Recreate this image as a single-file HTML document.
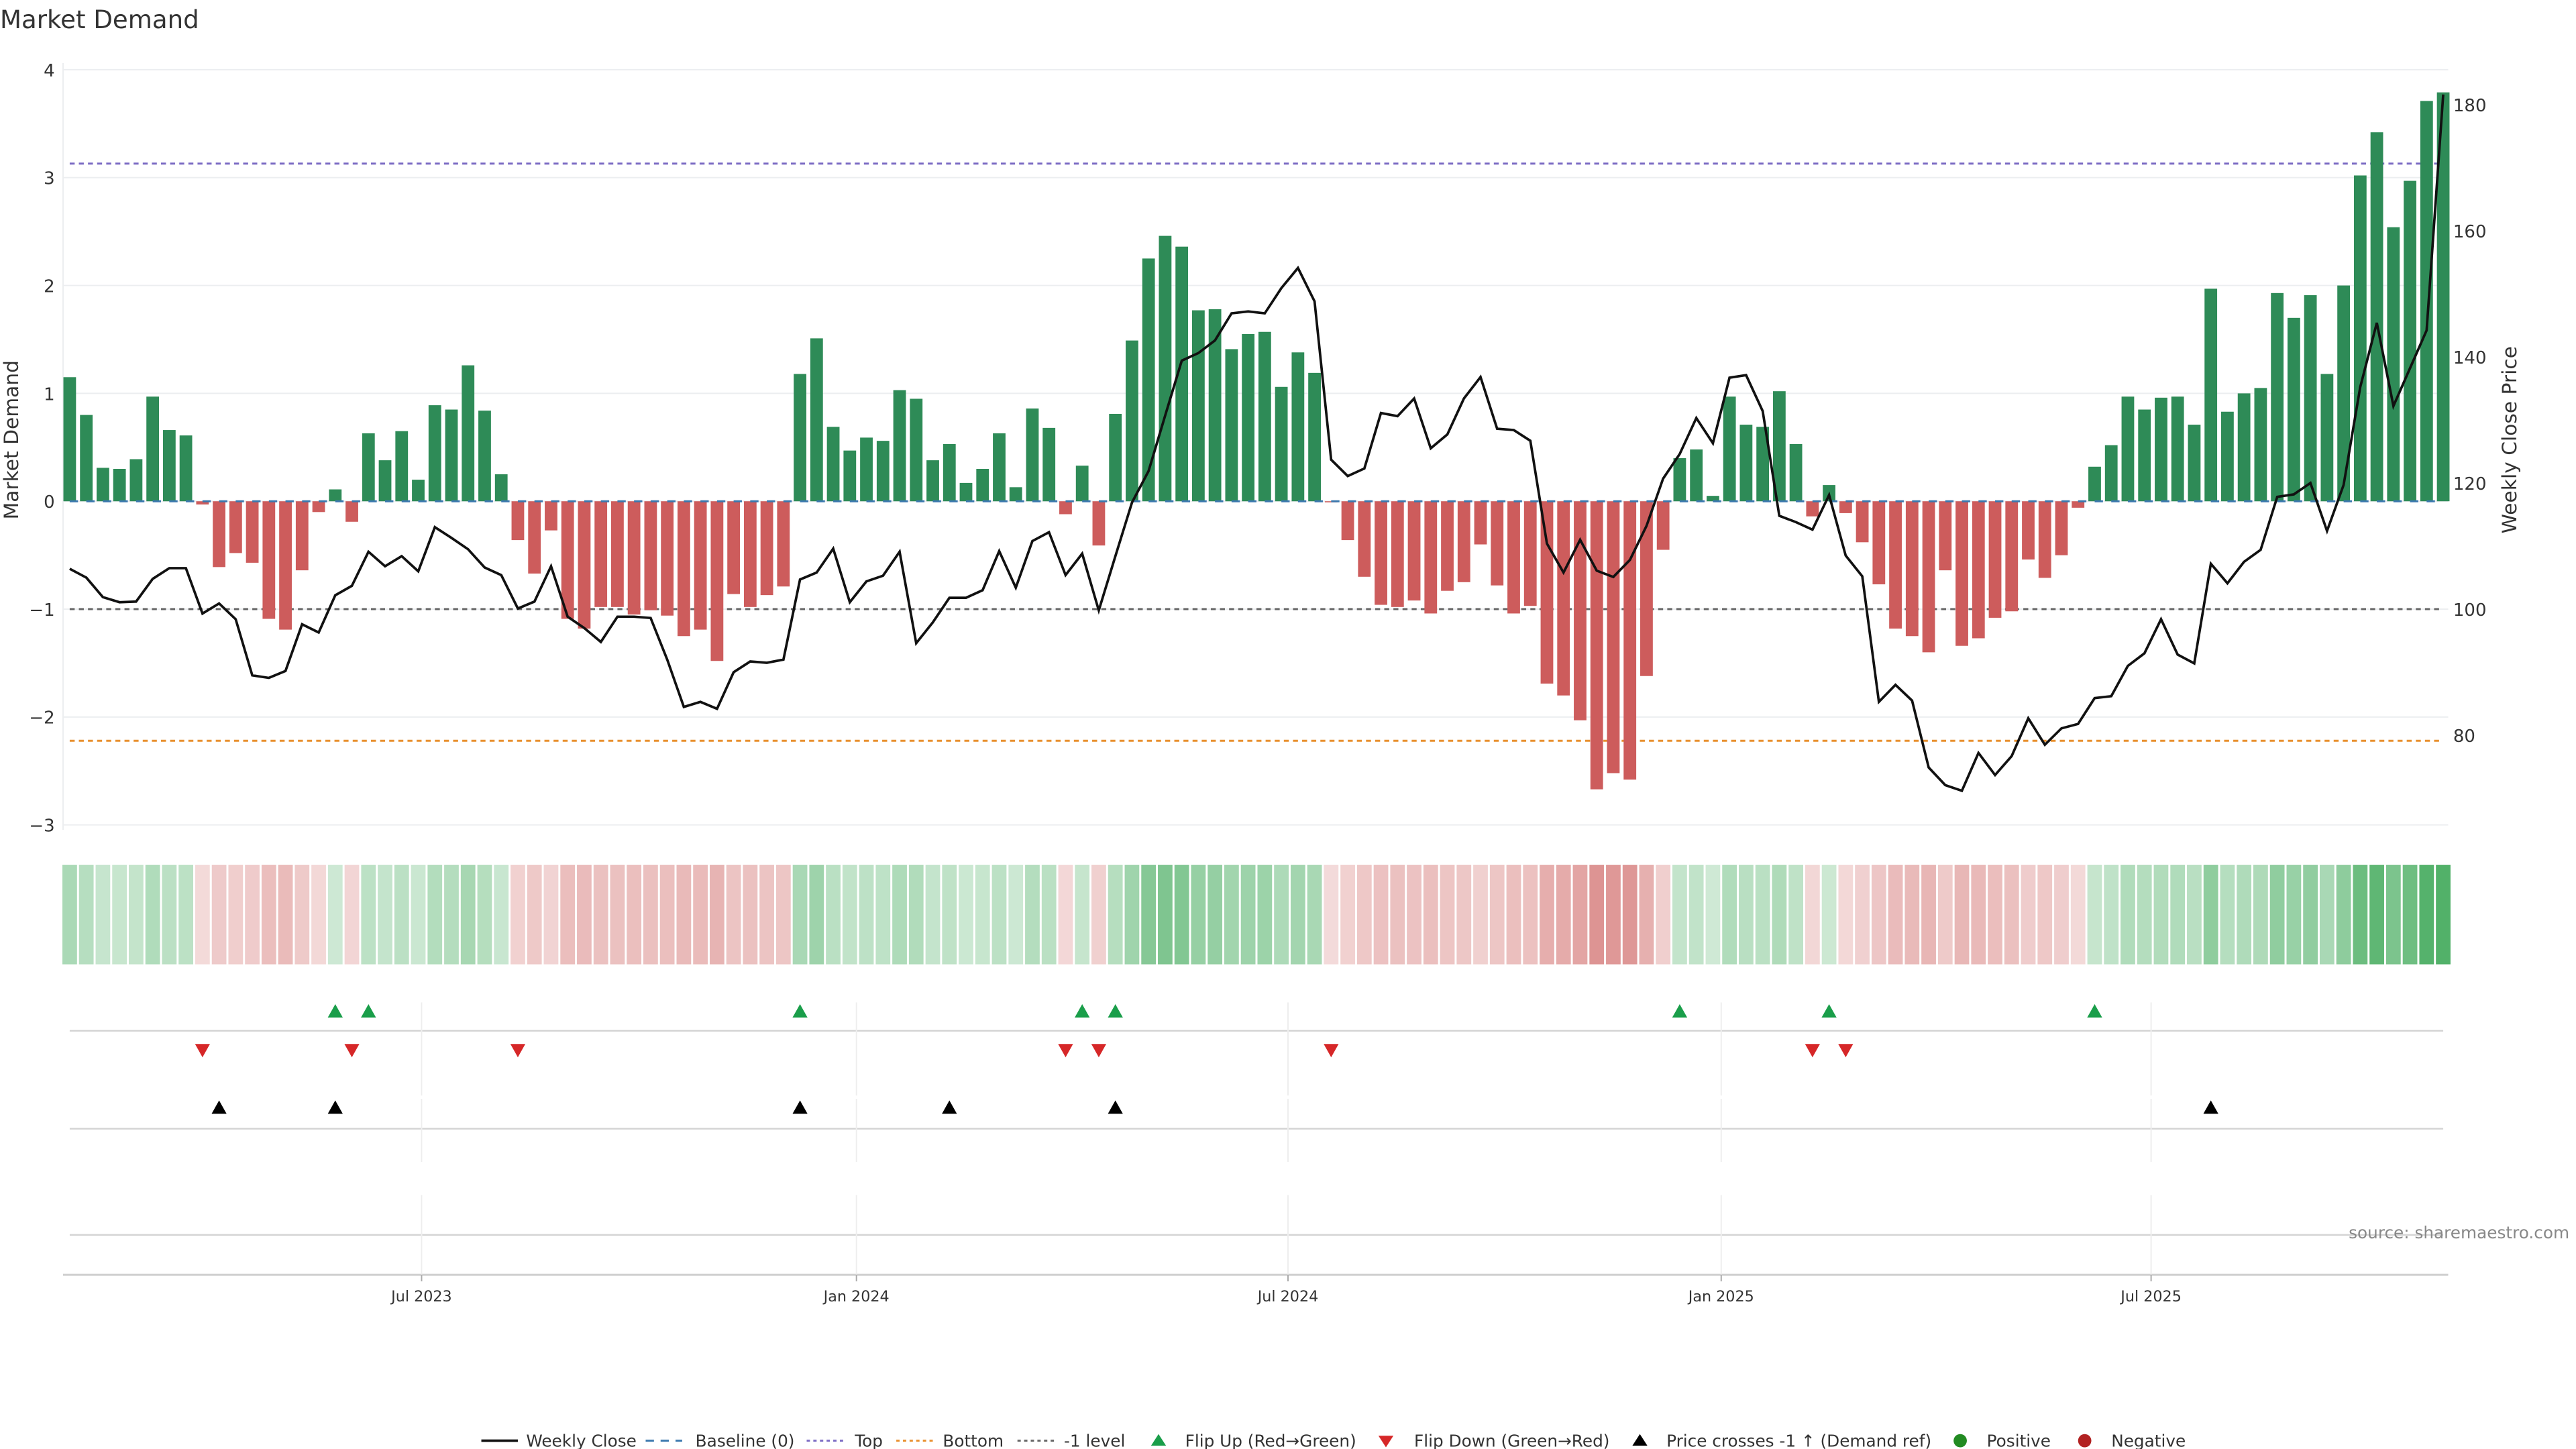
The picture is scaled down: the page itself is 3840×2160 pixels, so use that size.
<!DOCTYPE html>
<html><head><meta charset="utf-8"><title>Market Demand</title>
<style>
html,body{margin:0;padding:0;background:#fff;}
svg{display:block;font-family:"DejaVu Sans","Liberation Sans",sans-serif;}
</style></head>
<body>
<svg id="chart" width="3840" height="2160" viewBox="0 0 1552 873" preserveAspectRatio="none" xmlns="http://www.w3.org/2000/svg">
<rect x="0" y="0" width="1552" height="873" fill="#fff"/>
<text x="0" y="17" font-size="15" fill="#333">Market Demand</text>
<g id="grid"></g>
<g id="refs"></g>
<g id="bars"></g>
<g id="line"></g>
<g id="strip"></g>
<g id="events"></g>
<g id="axes"></g>
<g id="legend"></g>
</svg>
<script>
const demand = [1.15,0.80,0.31,0.30,0.39,0.97,0.66,0.61,-0.03,-0.61,-0.48,-0.57,-1.09,-1.19,-0.64,-0.10,0.11,-0.19,0.63,0.38,0.65,0.20,0.89,0.85,1.26,0.84,0.25,-0.36,-0.67,-0.27,-1.09,-1.18,-0.98,-0.98,-1.05,-1.01,-1.06,-1.25,-1.19,-1.48,
-0.86,-0.98,-0.87,-0.79,1.18,1.51,0.69,0.47,0.59,0.56,1.03,0.95,0.38,0.53,0.17,0.30,0.63,0.13,0.86,0.68,-0.12,0.33,-0.41,0.81,1.49,2.25,2.46,2.36,1.77,1.78,1.41,1.55,1.57,1.06,1.38,1.19,-0.01,-0.36,-0.70,-0.96,
-0.98,-0.92,-1.04,-0.83,-0.75,-0.40,-0.78,-1.04,-0.97,-1.69,-1.80,-2.03,-2.67,-2.52,-2.58,-1.62,-0.45,0.40,0.48,0.05,0.97,0.71,0.69,1.02,0.53,-0.14,0.15,-0.11,-0.38,-0.77,-1.18,-1.25,-1.40,-0.64,-1.34,-1.27,-1.08,-1.02,-0.54,-0.71,-0.50,
-0.06,0.32,0.52,0.97,0.85,0.96,0.97,0.71,1.97,0.83,1.00,1.05,1.93,1.70,1.91,1.18,2.00,3.02,3.42,2.54,2.97,3.71,3.79];
const price = [106.4,105.0,101.9,101.1,101.2,104.8,106.5,106.5,99.3,100.9,98.4,89.5,89.1,90.2,97.6,96.3,102.2,103.7,109.1,106.8,108.4,106.0,113.0,111.3,109.5,106.6,105.4,100.1,101.2,106.8,98.8,97.0,94.8,98.8,98.8,98.6,92.0,84.5,85.3,84.2,
90.0,91.7,91.5,92.0,104.7,105.8,109.6,101.1,104.4,105.3,109.1,94.6,97.9,101.8,101.8,103.0,109.2,103.4,110.8,112.2,105.4,108.8,99.8,108.4,116.9,121.9,130.7,139.4,140.6,142.6,146.9,147.2,146.9,150.9,154.1,148.8,123.7,121.1,122.3,131.1,
130.6,133.4,125.5,127.7,133.4,136.8,128.6,128.4,126.7,110.4,105.8,111.0,106.1,105.1,107.8,113.2,120.7,124.6,130.3,126.3,136.7,137.1,131.4,114.8,113.8,112.6,118.1,108.5,105.2,85.3,88.0,85.5,74.9,72.1,71.2,77.2,73.7,76.7,82.7,78.5,81.1,
81.8,85.9,86.2,91.0,93.0,98.4,92.8,91.4,107.2,104.1,107.5,109.4,117.8,118.2,120.0,112.4,119.7,135.2,145.4,132.2,138.2,144.2,181.6];
const leftTicks = [4,3,2,1,0,-1,-2,-3];
const rightTicks = [180,160,140,120,100,80];
const dateTickLabels = ["Jul 2023","Jan 2024","Jul 2024","Jan 2025","Jul 2025"];
const dateTickWeeks = [21.2,47.4,73.4,99.5,125.4];
const topLevel = 3.13, bottomLevel = -2.22, refLevel = -1, priceRef = 100;

const NS="http://www.w3.org/2000/svg";
function mk(parent,tag,attrs){const e=document.createElementNS(NS,tag);for(const k in attrs)e.setAttribute(k,attrs[k]);document.getElementById(parent).appendChild(e);return e;}
const X0=42, DX=(1472-42)/(demand.length-1);
const xS=i=>X0+i*DX;
const yL=v=>302-v*65;
const yR=p=>367-(p-100)*3.8;
const PL=38, PR=1475;

// grid
leftTicks.forEach(t=>{
  const l=mk('grid','line',{x1:PL,x2:PR,y1:yL(t),y2:yL(t),stroke:'#eceef0','stroke-width':0.8});
  
  
  const tx=mk('axes','text',{x:33,y:yL(t)+4,'text-anchor':'end','font-size':10.5,fill:'#333'});
  tx.textContent=(t<0?'\u2212'+(-t):t);
  
  
});
mk('grid','line',{x1:PL,x2:PL,y1:38,y2:500,stroke:'#eceef0','stroke-width':0.8});
rightTicks.forEach(t=>{
  const tx=mk('axes','text',{x:1478,y:yR(t)+4,'font-size':10.5,fill:'#333'});
  tx.textContent=t;
  
  
});
let yt=mk('axes','text',{x:11,y:265,'text-anchor':'middle','font-size':12,fill:'#333',transform:'rotate(-90 11 265)'});
yt.textContent='Market Demand';


let yt2=mk('axes','text',{x:1516,y:265,'text-anchor':'middle','font-size':12,fill:'#333',transform:'rotate(-90 1516 265)'});
yt2.textContent='Weekly Close Price';



// reference lines
function refLine(y,color,name,dash){
  const l=mk('refs','line',{x1:42,x2:1472,y1:y,y2:y,stroke:color,'stroke-width':1.2,'stroke-dasharray':dash});
  
  
}
refLine(yL(topLevel),'#7c6cc4','top-line','3 2.5');
refLine(yL(bottomLevel),'#e8902f','bottom-line','3 2.5');
refLine(yL(refLevel),'#666','minus-one-level-line','3 2.5');

// bars
demand.forEach((v,i)=>{
  const y=Math.min(yL(v),yL(0)), h=Math.abs(yL(v)-yL(0));
  const b=mk('bars','rect',{x:xS(i)-3.8,y:y,width:7.6,height:Math.max(h,0.3),fill:v>=0?'#2e8b57':'#cd5c5c'});
  
  
});
const bl=mk('bars','line',{x1:42,x2:1472,y1:yL(0),y2:yL(0),stroke:'#3b78ae','stroke-width':1.2,'stroke-dasharray':'5 5'});



// price line
const pts=price.map((p,i)=>xS(i).toFixed(2)+','+yR(p).toFixed(2)).join(' ');
const pl=mk('line','polyline',{points:pts,fill:'none',stroke:'#111','stroke-width':1.5,'stroke-linejoin':'miter'});



// color strip
function mix(c,t){return 'rgb('+c.map(x=>Math.round(255+(x-255)*t)).join(',')+')';}
demand.forEach((v,i)=>{
  const t=Math.min(1,0.22+0.6*Math.abs(v)/3.8);
  const col=v>=0?mix([44,160,72],t):mix([200,80,78],t*0.95);
  const r=mk('strip','rect',{x:xS(i)-4.4,y:521,width:8.8,height:60,fill:col});
  
  
});

// event panel lines
[621,680,744].forEach(y=>{mk('events','line',{x1:42,x2:1472,y1:y,y2:y,stroke:'#d4d4d4','stroke-width':1});});
mk('events','line',{x1:38,x2:1475,y1:768,y2:768,stroke:'#d0d0d0','stroke-width':1.2});
dateTickWeeks.forEach((w,k)=>{
  const x=xS(w);
  [[604,660],[662,700],[720,768]].forEach(s=>mk('events','line',{x1:x,x2:x,y1:s[0],y2:s[1],stroke:'#eeeeee','stroke-width':0.8}));
  mk('events','line',{x1:x,x2:x,y1:768,y2:772,stroke:'#aaa','stroke-width':0.8});
  const tx=mk('axes','text',{x:x,y:784,'text-anchor':'middle','font-size':9,fill:'#333'});
  tx.textContent=dateTickLabels[k];
  
  
});
function tri(x,y,up,color,name){
  const d=up?`M${x-4.5},${y+4} L${x+4.5},${y+4} L${x},${y-4} Z`:`M${x-4.5},${y-4} L${x+4.5},${y-4} L${x},${y+4} Z`;
  const p=mk('events','path',{d:d,fill:color});
  
  
}
for(let i=1;i<demand.length;i++){
  if(demand[i-1]<0&&demand[i]>=0) tri(xS(i),609,true,'#1a9e4a','flip-up-marker');
  if(demand[i-1]>=0&&demand[i]<0) tri(xS(i),633,false,'#d62728','flip-down-marker');
  if(price[i-1]<priceRef&&price[i]>=priceRef) tri(xS(i),667,true,'#000','price-cross-marker');
}
const src=mk('axes','text',{x:1548,y:746,'text-anchor':'end','font-size':10,fill:'#888'});
src.textContent='source: sharemaestro.com';



// legend
const LY=868;
function ltext(x,s){const t=mk('legend','text',{x:x,y:LY+3.5,'font-size':10,fill:'#333'});t.textContent=s;}
mk('legend','line',{x1:290,x2:312,y1:LY,y2:LY,stroke:'#111','stroke-width':1.5});ltext(317,'Weekly Close');
mk('legend','line',{x1:389,x2:411,y1:LY,y2:LY,stroke:'#3b78ae','stroke-width':1.2,'stroke-dasharray':'5 4'});ltext(419,'Baseline (0)');
mk('legend','line',{x1:486,x2:508,y1:LY,y2:LY,stroke:'#7c6cc4','stroke-width':1.2,'stroke-dasharray':'2 2'});ltext(515,'Top');
mk('legend','line',{x1:540,x2:562,y1:LY,y2:LY,stroke:'#e8902f','stroke-width':1.2,'stroke-dasharray':'2 2'});ltext(568,'Bottom');
mk('legend','line',{x1:613,x2:635,y1:LY,y2:LY,stroke:'#666','stroke-width':1.2,'stroke-dasharray':'2 2'});ltext(641,'-1 level');
mk('legend','path',{d:`M${693.5},${LY+3} L${702.5},${LY+3} L698,${LY-4} Z`,fill:'#1a9e4a'});ltext(714,'Flip Up (Red\u2192Green)');
mk('legend','path',{d:`M${830.5},${LY-3} L${839.5},${LY-3} L835,${LY+4} Z`,fill:'#d62728'});ltext(852,'Flip Down (Green\u2192Red)');
mk('legend','path',{d:`M${983.5},${LY+3} L${992.5},${LY+3} L988,${LY-4} Z`,fill:'#000'});ltext(1004,'Price crosses -1 \u2191 (Demand ref)');
mk('legend','circle',{cx:1181,cy:LY,r:4,fill:'#228b22'});ltext(1197,'Positive');
mk('legend','circle',{cx:1256,cy:LY,r:4,fill:'#b22222'});ltext(1272,'Negative');
</script>
</body></html>
